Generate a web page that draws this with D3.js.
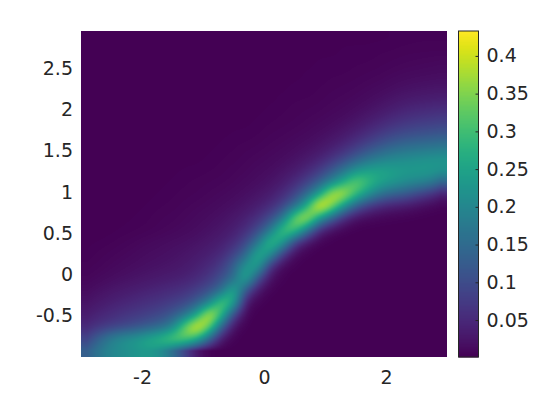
<!DOCTYPE html>
<html>
<head>
<meta charset="utf-8">
<script src="https://d3js.org/d3.v7.min.js"></script>
<style>
  html, body { margin: 0; background: #fff; }
</style>
</head>
<body>
<div class="chart"></div>
<script>
// tick labels
let xTicks = [-2, 0, 2];
let yTicks = [-0.5, 0, 0.5, 1, 1.5, 2, 2.5];
let colorTicks = [0.05, 0.1, 0.15, 0.2, 0.25, 0.3, 0.35, 0.4];

// plot and colour limits
let xLimits = [-3, 3];
let yLimits = [-1, 2.95];
let colorLimits = [0.001, 0.433];

// density, in thousandths, top row first
let density = [
  [1,1,1,1,1,1,1,1,1,1,1,1,1,1,1,1,1,1,1,1,2,2,2,2,2,3,3,4,4,4],
  [1,1,1,1,1,1,1,1,1,1,1,1,1,1,1,1,1,1,2,2,2,3,3,3,4,4,5,5,5,5],
  [1,1,1,1,1,1,1,1,1,1,1,1,1,1,1,1,1,2,2,3,3,3,4,4,5,6,7,8,9,10],
  [1,1,1,1,1,1,1,1,1,1,1,1,1,1,1,1,2,2,3,3,4,4,5,6,7,9,11,12,13,14],
  [1,1,1,1,1,1,1,1,1,1,1,1,1,1,1,2,2,3,3,4,5,6,7,9,11,14,17,19,21,22],
  [1,1,1,1,1,1,1,1,1,1,1,1,1,1,2,2,3,4,4,5,7,8,10,13,17,22,27,30,32,34],
  [1,1,1,1,1,1,1,1,1,1,1,1,1,2,2,3,4,5,6,7,9,11,15,20,27,35,43,48,52,55],
  [1,1,1,1,1,1,1,1,1,1,1,1,2,2,3,4,5,6,8,10,13,17,24,33,44,56,65,72,76,80],
  [1,1,1,1,1,1,1,1,1,1,2,2,3,3,4,6,7,9,11,15,20,28,40,55,72,87,98,105,110,115],
  [1,1,1,1,1,1,1,1,1,2,2,3,4,5,6,8,10,13,17,23,33,47,68,92,115,135,148,155,160,165],
  [1,1,1,1,1,1,1,1,2,2,3,4,5,7,9,11,14,19,27,38,58,85,120,155,180,197,205,212,218,222],
  [1,1,1,1,1,1,1,2,3,3,4,5,7,9,12,15,21,30,45,70,110,160,215,245,252,245,238,238,238,230],
  [1,1,1,1,1,1,2,3,4,5,6,7,9,12,16,21,32,50,80,125,190,265,340,300,255,235,215,200,190,145],
  [1,1,1,1,1,2,3,4,5,6,8,10,13,17,23,32,50,85,145,235,400,410,305,225,165,135,120,90,65,35],
  [1,1,1,1,2,3,4,5,7,9,11,14,18,25,35,52,85,150,265,470,380,230,125,70,45,32,26,16,8,4],
  [1,1,1,2,3,4,6,7,9,12,15,20,27,38,58,95,165,350,420,240,130,50,15,8,5,3,2,1,1,1],
  [1,1,2,3,4,5,7,9,12,15,20,26,36,55,95,170,320,330,170,45,12,3,1,1,1,1,1,1,1,1],
  [2,3,4,6,8,11,13,16,18,22,28,36,52,90,165,310,255,75,20,3,1,1,1,1,1,1,1,1,1,1],
  [3,5,7,9,12,15,17,20,24,30,38,50,85,140,280,230,70,10,2,1,1,1,1,1,1,1,1,1,1,1],
  [5,7,10,13,16,19,22,25,30,38,50,75,130,235,255,55,8,2,1,1,1,1,1,1,1,1,1,1,1,1],
  [8,11,15,19,23,27,31,35,40,50,70,105,150,280,100,15,3,1,1,1,1,1,1,1,1,1,1,1,1,1],
  [14,20,26,31,36,42,47,54,62,80,105,150,290,110,20,3,1,1,1,1,1,1,1,1,1,1,1,1,1,1],
  [22,30,38,45,52,60,67,78,92,125,190,340,270,20,4,1,1,1,1,1,1,1,1,1,1,1,1,1,1,1],
  [34,45,55,65,73,82,94,118,160,250,430,300,85,5,1,1,1,1,1,1,1,1,1,1,1,1,1,1,1,1],
  [50,65,78,90,105,125,145,190,340,450,350,130,15,1,1,1,1,1,1,1,1,1,1,1,1,1,1,1,1,1],
  [90,140,190,220,235,265,295,340,340,280,135,20,2,1,1,1,1,1,1,1,1,1,1,1,1,1,1,1,1,1],
  [130,170,200,210,225,235,215,160,90,25,3,1,1,1,1,1,1,1,1,1,1,1,1,1,1,1,1,1,1,1]
];

let svgWidth = 560;
let svgHeight = 420;
let plot = { left: 81, right: 447, top: 31, bottom: 357 };
let bar = { left: 458.5, right: 478.5 };
let plotW = plot.right - plot.left;
let plotH = plot.bottom - plot.top;

let svg = d3.select(".chart")
  .append("svg")
  .attr("width", svgWidth)
  .attr("height", svgHeight)
  .style("display", "block");

let xScale = d3.scaleLinear().domain(xLimits).range([plot.left, plot.right]);
let yScale = d3.scaleLinear().domain(yLimits).range([plot.bottom, plot.top]);
let colorScale = d3.scaleSequential(d3.interpolateViridis).domain(colorLimits);
let barScale = d3.scaleLinear().domain(colorLimits).range([plot.bottom, plot.top]);

// heatmap: shade the grid smoothly onto a canvas, then place it as an image
let canvas = document.createElement("canvas");
canvas.width = plotW;
canvas.height = plotH;
let ctx = canvas.getContext("2d");

let nRows = density.length;
let nCols = density[0].length;
let rowSplines = density.map(row => d3.interpolateBasis(row));
// pixel position to spline position, grid values sit at cell centres
let colT = d3.scaleLinear().domain([0, plotW]).range([-0.5 / (nCols - 1), 1 + 0.5 / (nCols - 1)]);
let rowT = d3.scaleLinear().domain([0, plotH]).range([-0.5 / (nRows - 1), 1 + 0.5 / (nRows - 1)]);

for (let px = 0; px < plotW; px++) {
  let t = Math.max(0, Math.min(1, colT(px + 0.5)));
  let colSpline = d3.interpolateBasis(rowSplines.map(s => s(t)));
  for (let py = 0; py < plotH; py++) {
    let v = Math.max(0, Math.min(1, rowT(py + 0.5)));
    ctx.fillStyle = colorScale(colSpline(v) / 1000);
    ctx.fillRect(px, py, 1, 1);
  }
}

svg.append("image")
  .attr("x", plot.left)
  .attr("y", plot.top)
  .attr("width", plotW)
  .attr("height", plotH)
  .attr("href", canvas.toDataURL());

// axes, no tick marks show over the image
let xAxis = d3.axisBottom(xScale).tickValues(xTicks).tickSize(0).tickPadding(14).tickFormat(String);
let yAxis = d3.axisLeft(yScale).tickValues(yTicks).tickSize(0).tickPadding(8).tickFormat(String);

let xGroup = svg.append("g").attr("transform", `translate(0, ${plot.bottom})`).call(xAxis);
let yGroup = svg.append("g").attr("transform", `translate(${plot.left}, 0)`).call(yAxis);
xGroup.select(".domain").remove();
yGroup.select(".domain").remove();

// colorbar
svg.append("g")
  .selectAll("rect")
  .data(d3.range(plot.top, plot.bottom))
  .enter()
  .append("rect")
  .attr("x", bar.left)
  .attr("y", d => d)
  .attr("width", bar.right - bar.left)
  .attr("height", 1.5)
  .attr("fill", d => colorScale(barScale.invert(d + 0.5)));

svg.append("rect")
  .attr("x", bar.left)
  .attr("y", plot.top)
  .attr("width", bar.right - bar.left)
  .attr("height", plotH)
  .attr("fill", "none")
  .attr("stroke", "#262626");

let barAxis = d3.axisRight(barScale).tickValues(colorTicks).tickSize(-3).tickPadding(8).tickFormat(String);
let barGroup = svg.append("g").attr("transform", `translate(${bar.right}, 0)`).call(barAxis);
barGroup.select(".domain").remove();
barGroup.selectAll("line").attr("stroke", "#262626");

svg.selectAll(".tick text")
  .style("font-family", '"DejaVu Sans", sans-serif')
  .style("font-size", "19px")
  .attr("fill", "#262626");
</script>
</body>
</html>
